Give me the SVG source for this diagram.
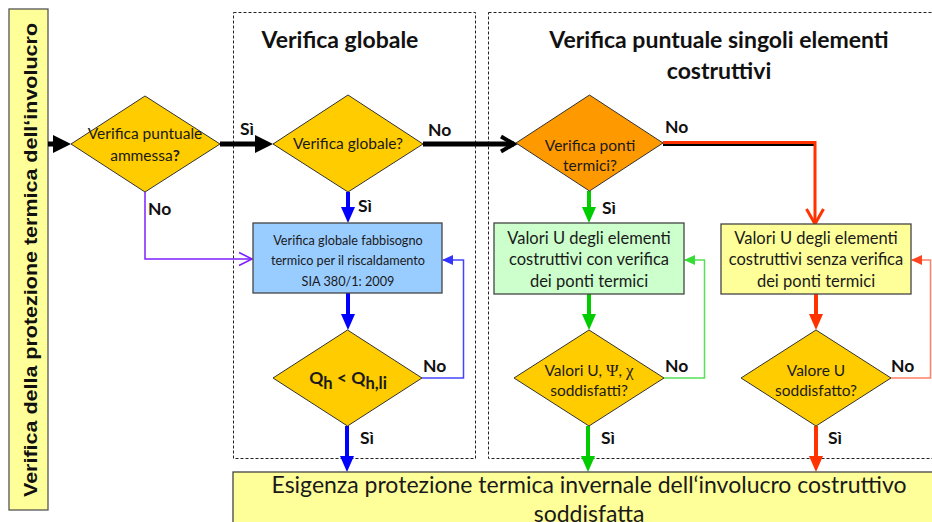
<svg xmlns="http://www.w3.org/2000/svg" width="932" height="522" viewBox="0 0 932 522">
<style>
.t{font-family:Lato,"Liberation Sans",sans-serif;fill:#1a1a1a}
.lbl{font-family:Lato,"Liberation Sans",sans-serif;font-weight:bold;font-size:17.5px;fill:#111}
.title{font-family:Lato,"Liberation Sans",sans-serif;font-weight:bold;font-size:23px;fill:#111;text-anchor:middle}
.dia{fill:#FFCC00;stroke:#333;stroke-width:1}
.box{stroke:#444;stroke-width:1.3}
.frame{fill:none;stroke:#222;stroke-width:1;stroke-dasharray:3,2}
.c{fill:none}
</style>
<defs>
<marker id="aBlack" markerUnits="userSpaceOnUse" viewBox="0 0 18 18" refX="9" refY="9" markerWidth="18" markerHeight="18" orient="auto"><path d="M0,0 L18,9 L0,18 Z" fill="#000"/></marker>
<marker id="aOpenBlack" markerUnits="userSpaceOnUse" viewBox="0 0 16 16" refX="14" refY="8" markerWidth="16" markerHeight="16" orient="auto" overflow="visible"><path d="M1,0.5 L14,8 L1,15.5" fill="none" stroke="#000" stroke-width="4"/></marker>
<marker id="aBlue" markerUnits="userSpaceOnUse" viewBox="0 0 16 14" refX="8" refY="7" markerWidth="16" markerHeight="14" orient="auto"><path d="M0,0 L16,7 L0,14 Z" fill="#0000FF"/></marker>
<marker id="aGreen" markerUnits="userSpaceOnUse" viewBox="0 0 16 14" refX="8" refY="7" markerWidth="16" markerHeight="14" orient="auto"><path d="M0,0 L16,7 L0,14 Z" fill="#00CC00"/></marker>
<marker id="aRed" markerUnits="userSpaceOnUse" viewBox="0 0 16 14" refX="8" refY="7" markerWidth="16" markerHeight="14" orient="auto"><path d="M0,0 L16,7 L0,14 Z" fill="#FF3300"/></marker>
<marker id="aOpenRed" markerUnits="userSpaceOnUse" viewBox="0 0 18 18" refX="16" refY="9" markerWidth="18" markerHeight="18" orient="auto" overflow="visible"><path d="M1,0.5 L16,9 L1,17.5" fill="none" stroke="#FF3300" stroke-width="3"/></marker>
<marker id="aOpenPurple" markerUnits="userSpaceOnUse" viewBox="0 0 14 14" refX="13" refY="7" markerWidth="14" markerHeight="14" orient="auto" overflow="visible"><path d="M0,0.5 L13,7 L0,13.5" fill="none" stroke="#7F1FFF" stroke-width="1.6"/></marker>
<marker id="aThinBlue" markerUnits="userSpaceOnUse" viewBox="0 0 11 10" refX="10" refY="5" markerWidth="11" markerHeight="10" orient="auto"><path d="M0,0 L11,5 L0,10 Z" fill="#3333FF"/></marker>
<marker id="aThinGreen" markerUnits="userSpaceOnUse" viewBox="0 0 11 10" refX="10" refY="5" markerWidth="11" markerHeight="10" orient="auto"><path d="M0,0 L11,5 L0,10 Z" fill="#33DD33"/></marker>
<marker id="aThinRed" markerUnits="userSpaceOnUse" viewBox="0 0 11 10" refX="10" refY="5" markerWidth="11" markerHeight="10" orient="auto"><path d="M0,0 L11,5 L0,10 Z" fill="#FF4422"/></marker>
</defs>
<rect width="932" height="522" fill="#fff"/>

<g id="frames">
<rect class="frame" x="233.5" y="12.5" width="242" height="446"/>
<rect class="frame" x="488.5" y="12.5" width="445" height="446"/>
<text class="title" x="340" y="48">Verifica globale</text>
<text class="title" x="719" y="48">Verifica puntuale singoli elementi</text>
<text class="title" x="719" y="79">costruttivi</text>
</g>

<g id="side-bar">
<rect x="9" y="9" width="39" height="501" fill="#FFFF99" stroke="#555" stroke-width="1.3"/>
<text transform="translate(37,260) rotate(-90)" text-anchor="middle" font-family="'Liberation Sans',Arial,sans-serif" font-weight="bold" font-size="19" fill="#111" textLength="474" lengthAdjust="spacingAndGlyphs">Verifica della protezione termica dell‘involucro</text>
</g>

<g id="connectors">
<path class="c" d="M48,144 H62" stroke="#000" stroke-width="5" marker-end="url(#aBlack)"/>
<path class="c" d="M220,144 H264" stroke="#000" stroke-width="5" marker-end="url(#aBlack)"/>
<path class="c" d="M423,144 H514" stroke="#000" stroke-width="5" marker-end="url(#aOpenBlack)"/>
<path class="c" d="M663,144.5 H815" stroke="#000" stroke-width="3"/>
<path class="c" d="M663,142.5 H815 V224" stroke="#FF3300" stroke-width="3" marker-end="url(#aOpenRed)"/>
<path class="c" d="M145,192 V259 H252" stroke="#7F1FFF" stroke-width="1.5" marker-end="url(#aOpenPurple)"/>
<path class="c" d="M348,192 V215" stroke="#0000FF" stroke-width="4" marker-end="url(#aBlue)"/>
<path class="c" d="M348,293 V322" stroke="#0000FF" stroke-width="4" marker-end="url(#aBlue)"/>
<path class="c" d="M347,426 V464" stroke="#0000FF" stroke-width="4" marker-end="url(#aBlue)"/>
<path class="c" d="M422,378 H463.5 V260 H443" stroke="#4444FF" stroke-width="1.5" marker-end="url(#aThinBlue)"/>
<path class="c" d="M589,191 V215" stroke="#00CC00" stroke-width="4" marker-end="url(#aGreen)"/>
<path class="c" d="M589,294 V322" stroke="#00CC00" stroke-width="4" marker-end="url(#aGreen)"/>
<path class="c" d="M588,426 V464" stroke="#00CC00" stroke-width="4" marker-end="url(#aGreen)"/>
<path class="c" d="M664,378 H704.5 V260 H685" stroke="#55E055" stroke-width="1.5" marker-end="url(#aThinGreen)"/>
<path class="c" d="M816,294 V322" stroke="#FF3300" stroke-width="4" marker-end="url(#aRed)"/>
<path class="c" d="M816,426 V464" stroke="#FF3300" stroke-width="4" marker-end="url(#aRed)"/>
<path class="c" d="M891,378 H930.5 V260 H912" stroke="#FF8066" stroke-width="1.5" marker-end="url(#aThinRed)"/>
<text class="lbl" x="240" y="135">Sì</text>
<text class="lbl" x="428" y="136">No</text>
<text class="lbl" x="358" y="212">Sì</text>
<text class="lbl" x="148" y="215">No</text>
<text class="lbl" x="665" y="133">No</text>
<text class="lbl" x="602" y="214">Sì</text>
<text class="lbl" x="423" y="372">No</text>
<text class="lbl" x="360" y="444">Sì</text>
<text class="lbl" x="665" y="372">No</text>
<text class="lbl" x="601" y="444">Sì</text>
<text class="lbl" x="891" y="372">No</text>
<text class="lbl" x="828" y="444">Sì</text>
</g>

<g id="d-ammessa">
<polygon class="dia" points="145,96 220,144 145,192 71,144"/>
<text class="t" font-size="15.5" text-anchor="middle" x="145" y="139">Verifica puntuale</text>
<text class="t" font-size="15.5" text-anchor="middle" x="145" y="161">ammessa<tspan font-weight="bold">?</tspan></text>
</g>

<g id="d-globale">
<polygon class="dia" points="348,95 423,144 348,192 273,144"/>
<text class="t" font-size="15.5" text-anchor="middle" x="348" y="149">Verifica globale?</text>
</g>

<g id="d-ponti">
<polygon points="589.5,95 663,143 589.5,191 516,143" fill="#FF9900" stroke="#333" stroke-width="1"/>
<text class="t" font-size="15.5" text-anchor="middle" x="590" y="151">Verifica ponti</text>
<text class="t" font-size="15.5" text-anchor="middle" x="590" y="171">termici?</text>
</g>

<g id="b-globale">
<rect class="box" x="253" y="223" width="189" height="70" fill="#99CCFF"/>
<text class="t" font-size="12.7" text-anchor="middle" x="348" y="245">Verifica globale fabbisogno</text>
<text class="t" font-size="12.7" text-anchor="middle" x="348" y="265">termico per il riscaldamento</text>
<text class="t" font-size="12.7" text-anchor="middle" x="348" y="286">SIA 380/1: 2009</text>
</g>

<g id="b-con">
<rect class="box" x="494" y="223" width="190" height="71" fill="#CCFFCC"/>
<text class="t" font-size="16.5" text-anchor="middle" x="589" y="244">Valori U degli elementi</text>
<text class="t" font-size="16.5" text-anchor="middle" x="589" y="265">costruttivi con verifica</text>
<text class="t" font-size="16.5" text-anchor="middle" x="589" y="287">dei ponti termici</text>
</g>

<g id="b-senza">
<rect class="box" x="721" y="224" width="190" height="70" fill="#FFFF99"/>
<text class="t" font-size="16.5" text-anchor="middle" x="816" y="244">Valori U degli elementi</text>
<text class="t" font-size="16.5" text-anchor="middle" x="816" y="265">costruttivi senza verifica</text>
<text class="t" font-size="16.5" text-anchor="middle" x="816" y="287">dei ponti termici</text>
</g>

<g id="d-qh">
<polygon class="dia" points="347.5,330 422,378 347.5,426 273,378"/>
<text class="t" font-size="17.5" font-weight="bold" text-anchor="middle" x="348" y="384">Q<tspan font-size="16.5" dy="5">h</tspan><tspan dy="-5"> &lt; Q</tspan><tspan font-size="16.5" dy="5">h,li</tspan></text>
</g>

<g id="d-uchi">
<polygon class="dia" points="589,330 664,378 589,426 514,378"/>
<text class="t" font-size="15.5" text-anchor="middle" x="589" y="376">Valori U, <tspan font-family="'Liberation Serif',serif" font-size="17">Ψ</tspan>, <tspan font-family="'Liberation Serif',serif" font-size="17">χ</tspan></text>
<text class="t" font-size="15.5" text-anchor="middle" x="589" y="396">soddisfatti?</text>
</g>

<g id="d-u">
<polygon class="dia" points="816,330 891,378 816,426 741,378"/>
<text class="t" font-size="15.5" text-anchor="middle" x="816" y="376">Valore U</text>
<text class="t" font-size="15.5" text-anchor="middle" x="816" y="396">soddisfatto?</text>
</g>

<g id="b-esito">
<rect class="box" x="233" y="472" width="710" height="60" fill="#FFFF99"/>
<text class="t" font-size="23" text-anchor="middle" x="589" y="493">Esigenza protezione termica invernale dell‘involucro costruttivo</text>
<text class="t" font-size="23" text-anchor="middle" x="589" y="522">soddisfatta</text>
</g>
</svg>
